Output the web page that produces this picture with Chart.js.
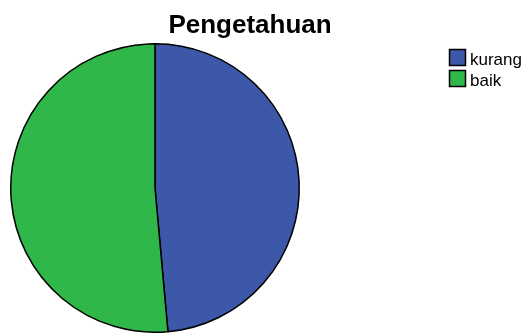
<!DOCTYPE html>
<html>
<head>
<meta charset="utf-8">
<script src="https://cdn.jsdelivr.net/npm/chart.js@4"></script>
<style>
    html, body { margin: 0; padding: 0; background: #ffffff; }
    #wrap { width: 527px; height: 334px; }
</style>
</head>
<body>
<div id="wrap"><canvas id="pie-chart" width="527" height="334"></canvas></div>
<script>
const chartTitle = 'Pengetahuan';
const categories = ['kurang', 'baik'];
const counts = [17, 18];
const sliceColors = ['#3d57a9', '#2fb74a'];

// title and legend are drawn by hand so they sit where the original puts them
const extrasPlugin = {
    id: 'extras',
    afterDraw(chart) {
        const ctx = chart.ctx;
        ctx.save();
        ctx.fillStyle = '#000000';
        ctx.font = 'bold 26px "Liberation Sans", Arial, sans-serif';
        ctx.textAlign = 'center';
        ctx.textBaseline = 'alphabetic';
        ctx.fillText(chartTitle, 250, 33);

        ctx.font = '17px "Liberation Sans", Arial, sans-serif';
        ctx.textAlign = 'left';
        categories.forEach((label, i) => {
            const y = 49 + i * 21;
            ctx.fillStyle = sliceColors[i];
            ctx.fillRect(449, y, 16, 16);
            ctx.strokeStyle = '#000000';
            ctx.lineWidth = 1.5;
            ctx.strokeRect(449.5, y + 0.5, 16, 16);
            ctx.fillStyle = '#000000';
            ctx.fillText(label, 470, y + 16);
        });
        ctx.restore();
    }
};

new Chart(document.getElementById('pie-chart'), {
    type: 'pie',
    data: {
        labels: categories,
        datasets: [{
            data: counts,
            backgroundColor: sliceColors,
            borderColor: '#000000',
            borderWidth: 1.5
        }]
    },
    options: {
        responsive: false,
        animation: false,
        layout: {
            padding: { left: 10, right: 227, top: 42, bottom: 0 }
        },
        plugins: {
            legend: { display: false },
            title: { display: false },
            tooltip: { enabled: false }
        }
    },
    plugins: [extrasPlugin]
});
</script>
</body>
</html>
